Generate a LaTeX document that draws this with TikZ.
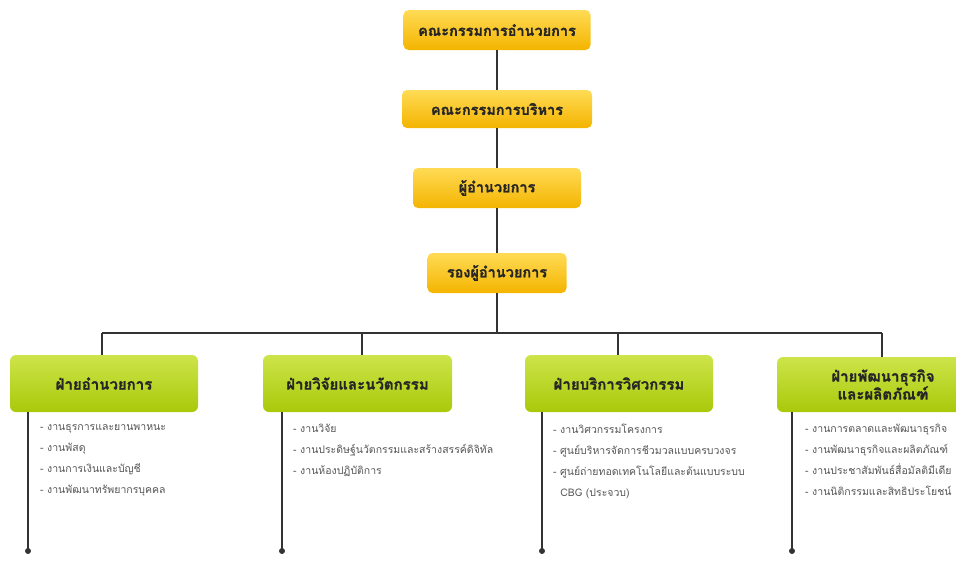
\documentclass[tikz,border=0pt]{standalone}
\usepackage{fontspec}
\newfontfamily\thaifont[Script=Thai]{Loma}
\usetikzlibrary{positioning}

\definecolor{boardtop}{HTML}{FFDB55}
\definecolor{boardbot}{HTML}{F4B400}
\definecolor{divtop}{HTML}{CDE44A}
\definecolor{divbot}{HTML}{A9C90A}
\definecolor{linkgray}{HTML}{333333}
\definecolor{itemgray}{HTML}{555555}

\tikzset{
  boardbox/.style={rounded corners=5pt, top color=boardtop, bottom color=boardbot,
    draw=none, minimum height=40pt, inner sep=2pt,
    font=\thaifont\bfseries\addfontfeature{FakeBold=1.2}\fontsize{14.5}{16}\selectfont, text=black!85},
  divbox/.style={rounded corners=6pt, top color=divtop, bottom color=divbot,
    draw=none, minimum height=57pt, inner sep=2pt, align=center,
    font=\thaifont\bfseries\addfontfeature{FakeBold=1.2}\fontsize{15}{18}\selectfont, text=black!85},
  itemlist/.style={anchor=north west, align=left, inner sep=0pt, text=itemgray,
    font=\thaifont\fontsize{10.5}{21}\selectfont},
  link/.style={draw=linkgray, line width=1.8pt},
  enddot/.style={fill=linkgray, draw=none}
}

\begin{document}
\begin{tikzpicture}[x=1pt,y=-1pt]
  \useasboundingbox (0,0) rectangle (956,560);
  \clip (0,0) rectangle (956,560);

  % chain of command
  \node[boardbox, minimum width=187pt] (board) at (497,30) {คณะกรรมการอำนวยการ};
  \node[boardbox, minimum width=190pt, minimum height=38pt] (exec) at (497,109) {คณะกรรมการบริหาร};
  \node[boardbox, minimum width=168pt] (director) at (497,188) {ผู้อำนวยการ};
  \node[boardbox, minimum width=139pt] (deputy) at (497,273) {รองผู้อำนวยการ};

  % divisions
  \node[divbox, minimum width=188pt] (divA) at (104,383.5) {ฝ่ายอำนวยการ};
  \node[divbox, minimum width=189pt] (divB) at (357.5,383.5) {ฝ่ายวิจัยและนวัตกรรม};
  \node[divbox, minimum width=188pt] (divC) at (619,383.5) {ฝ่ายบริการวิศวกรรม};
  \node[divbox, minimum width=212pt, minimum height=55pt] (divD) at (883,384.5) {ฝ่ายพัฒนาธุรกิจ\\และผลิตภัณฑ์};

  % work units
  \node[itemlist] (listA) at (40,424) {- งานธุรการและยานพาหนะ\\- งานพัสดุ\\- งานการเงินและบัญชี\\- งานพัฒนาทรัพยากรบุคคล};
  \node[itemlist] (listB) at (293,424) {- งานวิจัย\\- งานประดิษฐ์นวัตกรรมและสร้างสรรค์ดิจิทัล\\- งานห้องปฏิบัติการ};
  \node[itemlist] (listC) at (553,424) {- งานวิศวกรรมโครงการ\\- ศูนย์บริหารจัดการชีวมวลแบบครบวงจร\\- ศูนย์ถ่ายทอดเทคโนโลยีและต้นแบบระบบ\\\ \ CBG (ประจวบ)};
  \node[itemlist] (listD) at (805,424) {- งานการตลาดและพัฒนาธุรกิจ\\- งานพัฒนาธุรกิจและผลิตภัณฑ์\\- งานประชาสัมพันธ์สื่อมัลติมีเดีย\\- งานนิติกรรมและสิทธิประโยชน์};

  % bus
  \coordinate (busA) at (102,333);
  \coordinate (busB) at (362,333);
  \coordinate (busC) at (618,333);
  \coordinate (busD) at (882,333);
  \coordinate (endA) at (28,551);
  \coordinate (endB) at (282,551);
  \coordinate (endC) at (542,551);
  \coordinate (endD) at (792,551);

  \draw[link] (board) -- (exec);
  \draw[link] (exec) -- (director);
  \draw[link] (director) -- (deputy);
  \draw[link] (deputy) -- (deputy |- busA);
  \draw[link] (busA) -- (busD);
  \foreach \d in {A,B,C,D} {
    \draw[link] (bus\d) -- (bus\d |- div\d.north);
    \draw[link] (end\d |- div\d.south) -- (end\d);
    \fill[enddot] (end\d) circle (3pt);
  }
\end{tikzpicture}
\end{document}
